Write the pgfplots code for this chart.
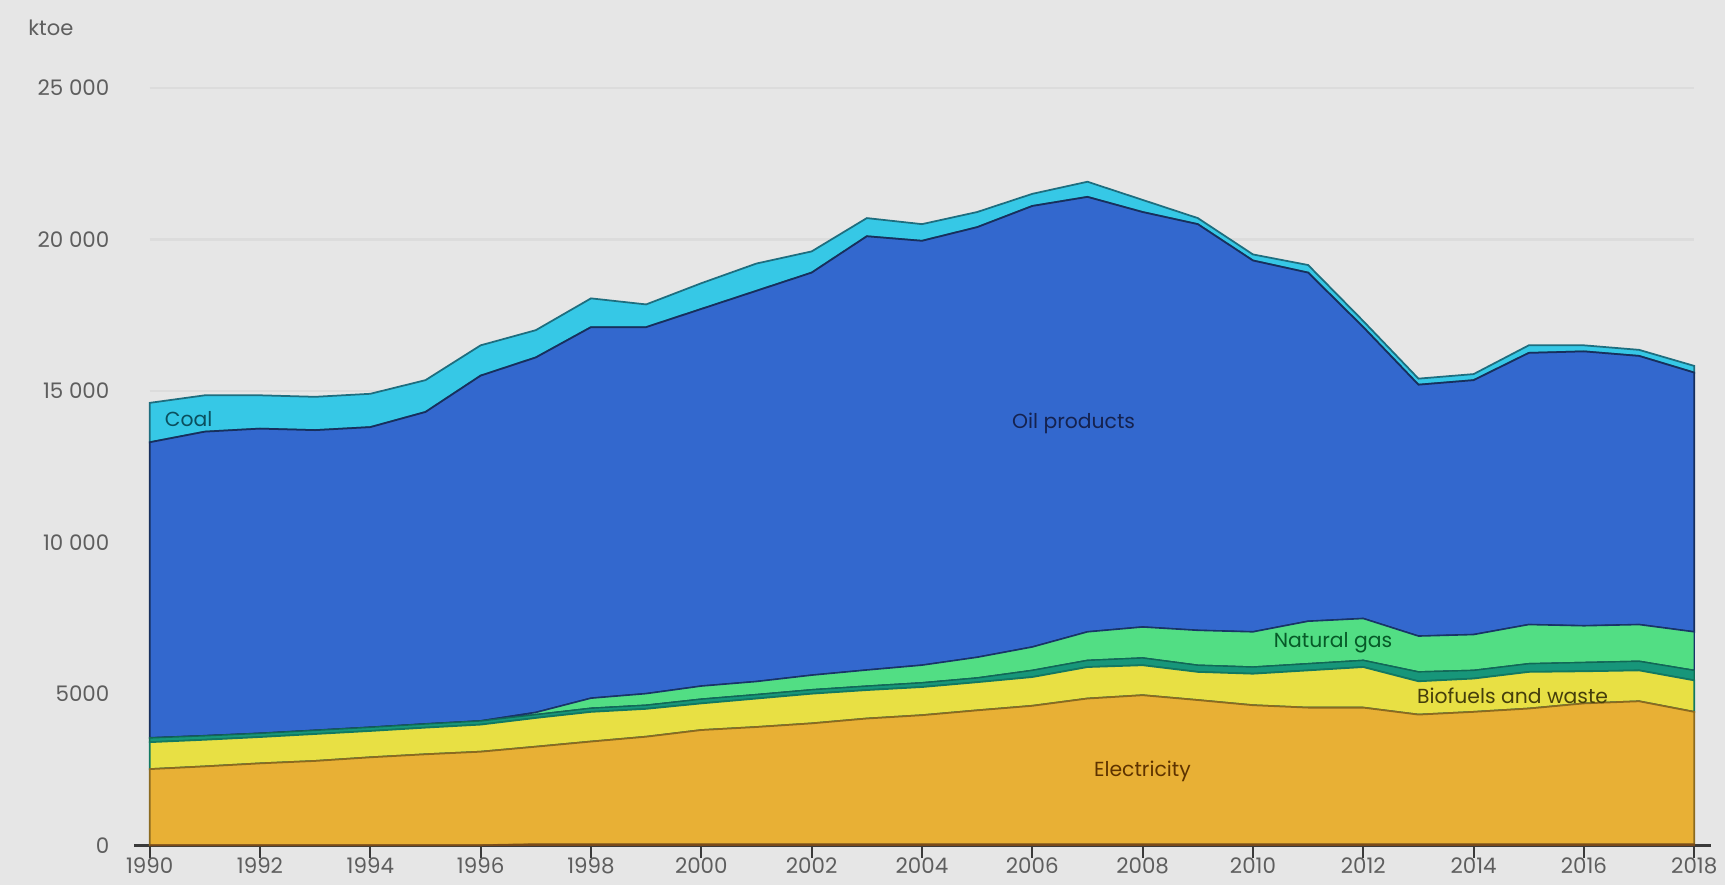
\documentclass[border=0pt]{standalone}
\usepackage{fontspec}
\setmainfont{Poppins}
\usepackage{pgfplots}
\pgfplotsset{compat=1.18}
\usepackage{pgfplotstable}

\definecolor{bg}{HTML}{E6E6E6}
\definecolor{gridc}{HTML}{DCDCDC}
\definecolor{axc}{HTML}{3A3A3A}
\definecolor{labc}{HTML}{5E5E5E}
\definecolor{cother}{HTML}{7A4A1A}
\definecolor{celec}{HTML}{E8B035}
\definecolor{cbio}{HTML}{E8E044}
\definecolor{cheat}{HTML}{17967A}
\definecolor{cgas}{HTML}{52DE84}
\definecolor{coil}{HTML}{3368CE}
\definecolor{ccoal}{HTML}{36C8E6}
\definecolor{tcoal}{HTML}{0B4F5E}
\definecolor{toil}{HTML}{15224F}
\definecolor{tgas}{HTML}{075A28}
\definecolor{tbio}{HTML}{453E0C}
\definecolor{telec}{HTML}{5E3300}

% final energy consumption by source, ktoe
\pgfplotstableread{
year other elec bio heat gas oil coal
1990 0 2510 890 140 0 9760 1300
1991 0 2600 880 130 0 10040 1200
1992 0 2700 870 120 0 10060 1100
1993 0 2780 890 120 0 9910 1100
1994 0 2900 870 120 0 9910 1100
1995 0 3000 880 120 0 10300 1050
1996 0 3085 895 120 0 11400 1000
1997 30 3220 950 110 70 11720 900
1998 30 3390 980 120 330 12250 950
1999 30 3550 920 120 380 12100 750
2000 30 3770 880 140 430 12450 850
2001 30 3870 940 130 430 12900 900
2002 30 3990 980 130 480 13290 700
2003 30 4150 940 130 530 14320 600
2004 30 4260 930 140 580 14010 550
2005 30 4420 930 140 680 14200 500
2006 30 4570 950 220 770 14560 400
2007 30 4810 1040 220 940 14360 500
2008 30 4920 990 240 1020 13700 400
2009 30 4760 930 220 1150 13410 200
2010 30 4590 1040 220 1160 12260 200
2011 30 4510 1230 220 1400 11510 250
2012 30 4510 1340 220 1380 9620 200
2013 30 4280 1100 310 1180 8300 200
2014 30 4370 1100 270 1180 8400 200
2015 30 4480 1210 270 1290 8970 250
2016 30 4650 1060 290 1210 9060 200
2017 30 4720 1020 300 1210 8870 200
2018 30 4370 1040 330 1270 8560 220
}\datatable

\begin{document}
\begin{tikzpicture}
\fill[bg] (-15mm,-4mm) rectangle (157.9mm,84.7mm);
\begin{axis}[
    at={(0,0)}, anchor=south west,
    scale only axis,
    width=154.8mm, height=75.9mm,
    xmin=1990, xmax=2018, ymin=0, ymax=25000,
    stack plots=y,
    clip=false,
    axis x line*=bottom, axis y line*=left,
    axis line style={draw=none},
    xtick={1990,1992,...,2018},
    ytick={0,5000,...,25000},
    yticklabels={0,5000,10 000,15 000,20 000,25 000},
    scaled y ticks=false,
    ymajorgrids,
    grid style={color=gridc, line width=0.7pt},
    xtick align=outside,
    major tick length=1.3mm,
    x tick style={draw=axc, line width=0.6pt},
    y tick style={draw=none},
    ticklabel style={font=\fontsize{6.1}{7}\selectfont, text=labc},
    xticklabel style={/pgf/number format/1000 sep={}, yshift=1.3mm},
    yticklabel style={xshift=-2.8mm},
    /pgf/number format/assume math mode=true,
]
\addplot[fill=cother, draw=cother, line width=0.4pt] table[x=year, y=other] {\datatable} \closedcycle;
\addplot[fill=celec, draw=celec!60!black, line width=0.5pt] table[x=year, y=elec] {\datatable} \closedcycle;
\addplot[fill=cbio, draw=cheat!80!black, line width=0.5pt] table[x=year, y=bio] {\datatable} \closedcycle;
\addplot[fill=cheat, draw=cheat!70!black, line width=0.4pt] table[x=year, y=heat] {\datatable} \closedcycle;
\addplot[fill=cgas, draw=coil!50!black, line width=0.4pt] table[x=year, y=gas] {\datatable} \closedcycle;
\addplot[fill=coil, draw=coil!45!black, line width=0.5pt] table[x=year, y=oil] {\datatable} \closedcycle;
\addplot[fill=ccoal, draw=ccoal!55!black, line width=0.5pt] table[x=year, y=coal] {\datatable} \closedcycle;

\draw[axc, line width=0.8pt] (axis cs:1989.72,0) -- (axis cs:2018.3,0);
\end{axis}
% area labels (axis origin at 0,0; 5.529 mm per year, 3.036 mm per 1000 ktoe)
\begin{scope}[every node/.style={font=\fontsize{5.8}{7}\selectfont}]
\node[text=tcoal] at (3.9mm,42.7mm) {Coal};
\node[text=toil] at (92.6mm,42.3mm) {Oil products};
\node[text=tgas] at (118.6mm,20.3mm) {Natural gas};
\node[text=tbio] at (136.6mm,15.0mm) {Biofuels and waste};
\node[text=telec] at (99.5mm,7.4mm) {Electricity};
\end{scope}
\node[anchor=west, font=\fontsize{6.0}{7}\selectfont, text=labc] at (-13.4mm,81.9mm) {ktoe};
\end{tikzpicture}
\end{document}
